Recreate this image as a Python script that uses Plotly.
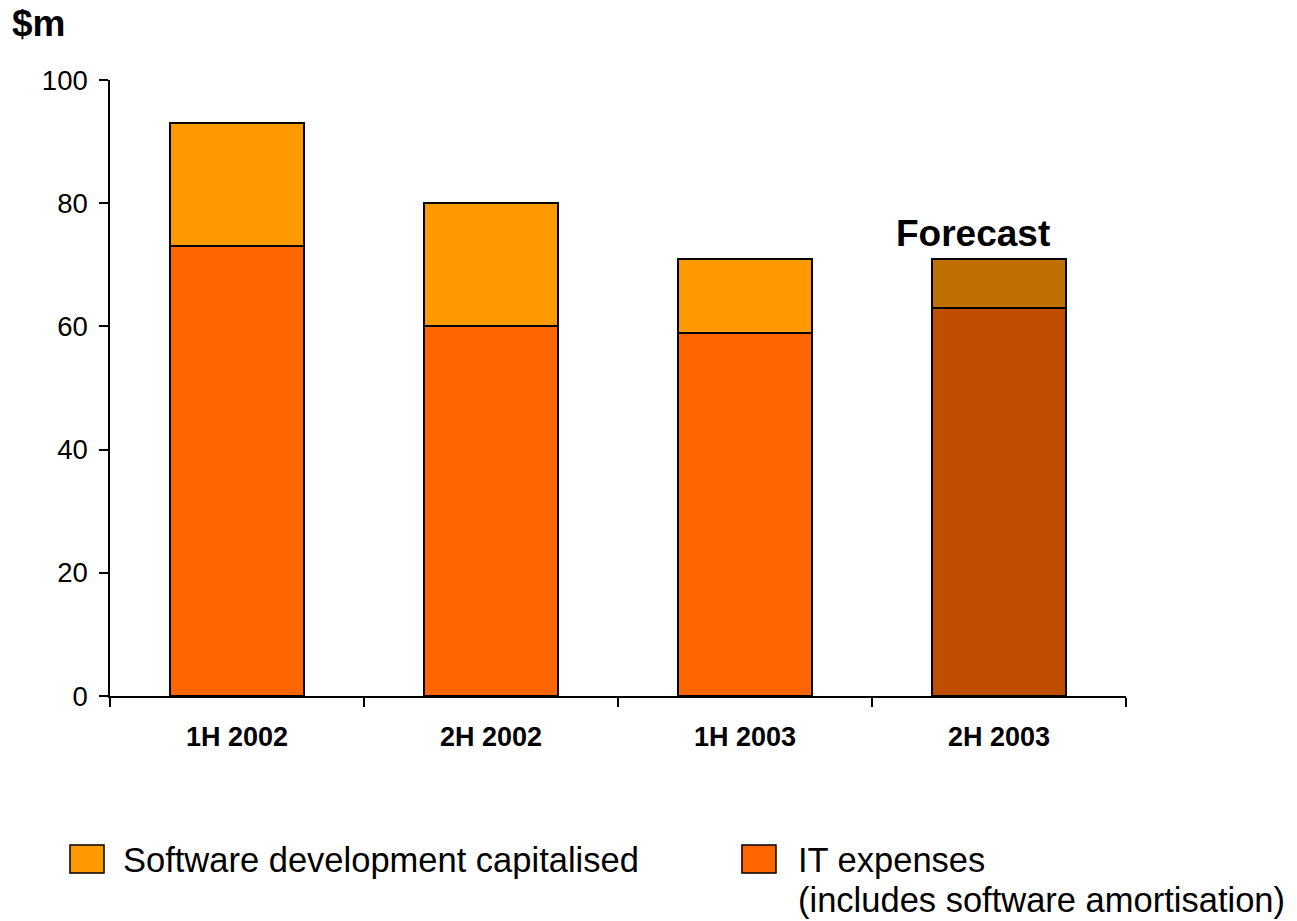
import plotly.graph_objects as go

periods = ["1H 2002", "2H 2002", "1H 2003", "2H 2003"]
it_expenses = [73, 60, 59, 63]
software_capitalised = [20, 20, 12, 8]

it_colors = ["#FF6600", "#FF6600", "#FF6600", "#C04E00"]
sw_colors = ["#FF9900", "#FF9900", "#FF9900", "#C07000"]

FONT = "Liberation Sans, Arial, sans-serif"

fig = go.Figure()
fig.add_trace(go.Bar(
    x=periods, y=it_expenses, name="IT expenses",
    marker=dict(color=it_colors, line=dict(color="black", width=2)),
    width=0.525, showlegend=False,
))
fig.add_trace(go.Bar(
    x=periods, y=software_capitalised, name="Software development capitalised",
    marker=dict(color=sw_colors, line=dict(color="black", width=2)),
    width=0.525, showlegend=False,
))

fig.update_layout(
    barmode="stack",
    width=1297, height=921,
    margin=dict(l=110, r=171, t=80, b=225),
    plot_bgcolor="white", paper_bgcolor="white",
    font=dict(family=FONT, color="black"),
    xaxis=dict(
        type="category", tickson="boundaries", ticks="outside", ticklen=9,
        tickwidth=1.5, tickcolor="black", showline=True, linecolor="black",
        linewidth=1.5, showgrid=False, ticklabelstandoff=16,
        tickfont=dict(size=27, family=FONT, weight="bold"),
    ),
    yaxis=dict(
        range=[0, 100], tickvals=[0, 20, 40, 60, 80, 100], ticks="outside",
        ticklen=9, tickwidth=1.5, tickcolor="black", showline=True,
        linecolor="black", linewidth=1.5, showgrid=False, zeroline=False,
        tickfont=dict(size=27.5, family=FONT), ticklabelstandoff=6,
    ),
)

# axis unit title
fig.add_annotation(text="<b>$m</b>", xref="paper", yref="paper", x=-0.0985, y=1.091,
                   xanchor="left", yanchor="middle", showarrow=False,
                   font=dict(size=37, family=FONT))
# forecast label above the last bar
fig.add_annotation(text="<b>Forecast</b>", x=periods[3], y=it_expenses[3] + software_capitalised[3],
                   yshift=25, xshift=-26, showarrow=False, yanchor="middle",
                   font=dict(size=37, family=FONT))

# legend swatches
for color, x0 in [(sw_colors[0], -0.0394), (it_colors[0], 0.622)]:
    fig.add_shape(type="rect", xref="paper", yref="paper",
                  x0=x0, x1=x0 + 0.0335, y0=-0.2873, y1=-0.2419,
                  fillcolor=color, line=dict(color="black", width=1.5))

# legend labels
legend_lines = [
    ("Software development capitalised", 0.0108, -0.266),
    ("IT expenses", 0.675, -0.266),
    ("(includes software amortisation)", 0.675, -0.331),
]
for label, x, y in legend_lines:
    fig.add_annotation(text=label, xref="paper", yref="paper", x=x, y=y,
                       xanchor="left", yanchor="middle", showarrow=False,
                       align="left", font=dict(size=34.5, family=FONT))

fig.write_html("out.html")
